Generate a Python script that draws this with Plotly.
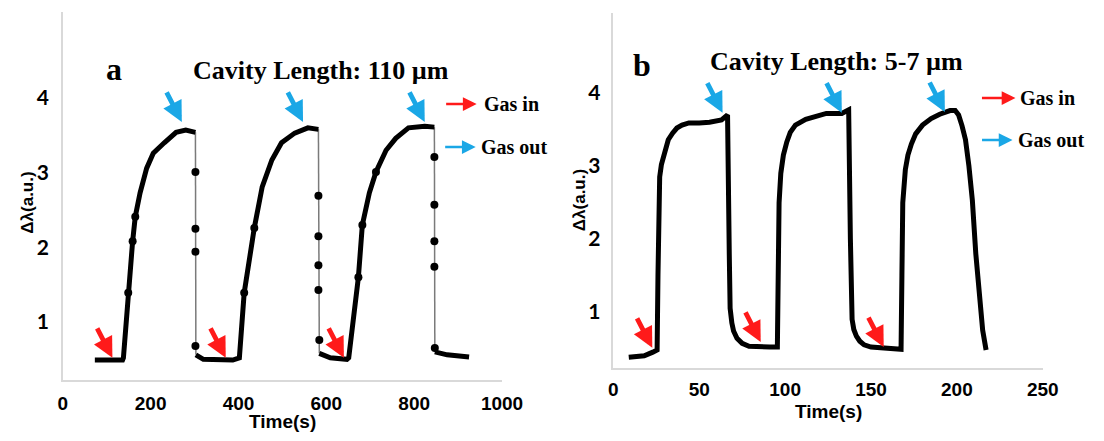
import plotly.graph_objects as go

# ---------------- Panel a data (Cavity Length: 110 um) ----------------
a_curve_x = [73, 136, 138, 149, 159, 165, 176, 191, 206, 231, 258, 280, 302, None,
             303, 320, 387, 402, 413, 436, 454, 476, 498, 528, 558, 582, None,
             584, 609, 647, 651, 673, 682, 698, 713, 736, 758, 787, 824, 846, None,
             847, 875, 925]
a_curve_y = [0.49, 0.49, 0.52, 1.39, 2.08, 2.41, 2.73, 3.06, 3.26, 3.40, 3.54, 3.57, 3.54, None,
             0.56, 0.50, 0.49, 0.52, 1.39, 2.26, 2.81, 3.17, 3.40, 3.53, 3.60, 3.58, None,
             0.58, 0.52, 0.50, 0.52, 1.60, 2.30, 2.73, 3.01, 3.30, 3.46, 3.60, 3.62, 3.61, None,
             0.60, 0.56, 0.53]
a_drop_x = [302, 303, None, 582, 584, None, 846, 847]
a_drop_y = [3.54, 0.56, None, 3.58, 0.58, None, 3.61, 0.60]
a_dot_x = [149, 159, 165, 413, 436, 673, 682, 713,
           302, 302, 302, 302, 582, 582, 582, 582, 584, 846, 846, 846, 846, 847]
a_dot_y = [1.39, 2.08, 2.41, 1.39, 2.26, 1.60, 2.30, 3.01,
           3.01, 2.25, 1.94, 0.68, 2.69, 2.15, 1.76, 1.43, 0.76, 3.21, 2.57, 2.08, 1.74, 0.65]
a_gas_in_x = [113, 371, 640]
a_gas_in_y = [0.52, 0.52, 0.52]
a_gas_out_x = [271, 547, 824]
a_gas_out_y = [3.68, 3.68, 3.68]

# ---------------- Panel b data (Cavity Length: 5-7 um) ----------------
b_x = [9, 18, 23, 25.5, 26, 26.5, 27, 28, 29, 30.5, 32, 34.5, 37, 40, 44, 50, 56, 63, 65,
       66.5, 67.5, 68, 69, 70, 72, 75, 79, 85, 91, 95.5,
       96, 96.5, 97.5, 99, 101, 103, 106, 112, 118, 124, 133, 137,
       138, 139, 140, 141.5, 143.5, 146, 150, 157.6, 167.5,
       168, 168.5, 170, 171.5, 173.5, 176, 180, 185, 190, 196, 199,
       201, 203, 205, 207, 209, 211, 213, 215, 217]
b_y = [0.38, 0.40, 0.45, 0.48, 1.50, 2.50, 2.85, 3.02, 3.12, 3.25, 3.36, 3.45, 3.52, 3.56, 3.59, 3.59, 3.60, 3.63, 3.67,
       3.70, 1.80, 1.05, 0.85, 0.74, 0.64, 0.57, 0.53, 0.52, 0.52, 0.52,
       1.50, 2.50, 2.90, 3.15, 3.33, 3.46, 3.56, 3.64, 3.68, 3.72, 3.72, 3.77,
       2.00, 0.90, 0.76, 0.67, 0.60, 0.55, 0.52, 0.51, 0.49,
       1.50, 2.50, 2.95, 3.15, 3.30, 3.44, 3.56, 3.65, 3.71, 3.76, 3.76,
       3.70, 3.55, 3.36, 3.00, 2.53, 1.80, 1.20, 0.75, 0.48]
b_gas_in_x = [22.7, 85.8, 157.4]
b_gas_in_y = [0.51, 0.59, 0.52]
b_gas_out_x = [63.6, 133, 193]
b_gas_out_y = [3.73, 3.73, 3.74]

y_ticks = [1, 2, 3, 4]
a_x_ticks = [0, 200, 400, 600, 800, 1000]
b_x_ticks = [0, 50, 100, 150, 200, 250]

# page has an 8px body margin: figure sized to fit the 1104x441 window
OFF = 8
FW, FH = 1104 - 2 * OFF, 441 - 2 * OFF
def PX(px):
    return (px - OFF) / FW
def PY(py):
    return 1 - (py - OFF) / FH

RED = "#ff1a1a"
BLUE = "#1aa7e6"
SERIF = "Liberation Serif"
SANS = "Liberation Sans"

fig = go.Figure()
fig.add_trace(go.Scatter(x=a_drop_x, y=a_drop_y, mode="lines", line=dict(color="#7a7a7a", width=1.5),
                         xaxis="x", yaxis="y", hoverinfo="skip"))
fig.add_trace(go.Scatter(x=a_curve_x, y=a_curve_y, mode="lines", line=dict(color="black", width=5),
                         connectgaps=False, xaxis="x", yaxis="y"))
fig.add_trace(go.Scatter(x=a_dot_x, y=a_dot_y, mode="markers", marker=dict(color="black", size=8),
                         xaxis="x", yaxis="y"))
fig.add_trace(go.Scatter(x=b_x, y=b_y, mode="lines", line=dict(color="black", width=5),
                         xaxis="x2", yaxis="y2"))

axis_common = dict(showgrid=False, zeroline=False, showline=True, linecolor="#d9d9d9", linewidth=1.5,
                   ticks="outside", tickcolor="rgba(0,0,0,0)")
xfont = dict(family=SANS, size=19, color="black", weight="bold")
yfont = dict(family="Lato", size=21, color="black", weight="bold")
fig.update_layout(
    width=FW, height=FH, margin=dict(l=0, r=0, t=0, b=0),
    paper_bgcolor="white", plot_bgcolor="white", showlegend=False,
    xaxis=dict(domain=[PX(59), PX(509)], range=[0, 1000], tickvals=a_x_ticks, ticklen=5,
               tickfont=xfont, anchor="y", **axis_common),
    yaxis=dict(domain=[PY(380), PY(12)], range=[0.223, 5.152], tickvals=y_ticks, ticklen=8,
               tickfont=yfont, anchor="x", **axis_common),
    xaxis2=dict(domain=[PX(623), PX(1063)], range=[0, 250], tickvals=b_x_ticks, ticklen=3,
                tickfont=xfont, anchor="y2", **axis_common),
    yaxis2=dict(domain=[PY(368), PY(13)], range=[0.233, 5.096], tickvals=y_ticks, ticklen=7,
                tickfont=yfont, anchor="x2", **axis_common),
)

ann = []
def text(px, py, s, size, family, xanchor="center", angle=0):
    ann.append(dict(x=PX(px), y=PY(py), xref="paper", yref="paper", text=s, showarrow=False,
                    xanchor=xanchor, yanchor="middle", textangle=angle,
                    font=dict(family=family, size=size, color="black", weight="bold")))

# panel titles
text(111, 69, "a", 32, SERIF)
text(324, 70, "Cavity Length: 110 µm", 26, SERIF)
text(652, 65, "b", 32, SERIF)
text(852, 61, "Cavity Length: 5-7 µm", 26, SERIF)
# axis titles
text(284, 421, "Time(s)", 19, SANS)
text(843, 411, "Time(s)", 19, SANS)
text(23, 203, "Δλ(a.u.)", 17, SANS, angle=-90)
text(588, 200, "Δλ(a.u.)", 17, SANS, angle=-90)
# legends
text(488, 104, "Gas in", 20, SERIF, xanchor="left")
text(485, 147, "Gas out", 20, SERIF, xanchor="left")
text(1038, 98, "Gas in", 20, SERIF, xanchor="left")
text(1036, 140, "Gas out", 20, SERIF, xanchor="left")

def legend_arrow(x0, x1, py, color):
    ann.append(dict(x=PX(x1), y=PY(py), xref="paper", yref="paper", ax=x0 - x1, ay=0,
                    axref="pixel", ayref="pixel", showarrow=True, arrowhead=2, arrowsize=1.1,
                    arrowwidth=2.5, arrowcolor=color, text=""))

legend_arrow(451, 483, 104, RED)
legend_arrow(450, 482, 147, BLUE)
legend_arrow(1000, 1035, 98, RED)
legend_arrow(1000, 1032, 140, BLUE)

def event_arrows(xs, ys, xr, yr, color):
    for x, y in zip(xs, ys):
        ann.append(dict(x=x, y=y, xref=xr, yref=yr, ax=-16, ay=-31, axref="pixel", ayref="pixel",
                        showarrow=True, arrowhead=2, arrowsize=0.85, arrowwidth=4.8, arrowcolor=color, text=""))

event_arrows(a_gas_in_x, a_gas_in_y, "x", "y", RED)
event_arrows(a_gas_out_x, a_gas_out_y, "x", "y", BLUE)
event_arrows(b_gas_in_x, b_gas_in_y, "x2", "y2", RED)
event_arrows(b_gas_out_x, b_gas_out_y, "x2", "y2", BLUE)

fig.update_layout(annotations=ann)
fig.write_html("out.html")
